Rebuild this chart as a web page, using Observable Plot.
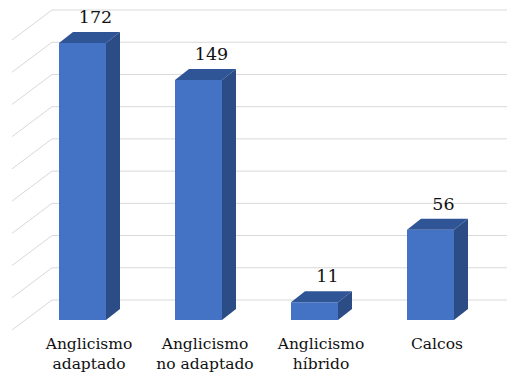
<!DOCTYPE html>
<html><head><meta charset="utf-8">
<script src="https://cdn.jsdelivr.net/npm/d3@7"></script>
<script src="https://cdn.jsdelivr.net/npm/@observablehq/plot@0.6"></script>
<style>body{margin:0;background:#fff}</style>
</head><body><div id="chart"></div>
<script>
const categories = ["Anglicismo\nadaptado", "Anglicismo\nno adaptado", "Anglicismo\nhíbrido", "Calcos"];
const values = [172, 149, 11, 56];
const gridValues = [0, 20, 40, 60, 80, 100, 120, 140, 160, 180];

const data = categories.map((c, i) => ({category: c, value: values[i]}));

const frontColor = "#4472c4", topColor = "#2f5597", sideColor = "#2b4c84";
const depthX = 14, depthY = 11;
const wallX = 52, wallDY = 20, floorDX = 40, floorDY = 30;
const serif = "'DejaVu Serif', 'Liberation Serif', 'Times New Roman', Tinos, 'Noto Serif', serif";
const bw = s => typeof s.bandwidth === "function" ? s.bandwidth() : s.bandwidth;

const gridMark = (index, scales, channels, dims) => {
  const g = d3.create("svg:g").attr("stroke", "#d9d9d9").attr("fill", "none").attr("stroke-width", 1);
  for (const v of gridValues) {
    const y = scales.y(v) - wallDY;
    g.append("path").attr("d", `M${dims.width},${y}H${wallX}l${-floorDX},${floorDY}`);
  }
  return g.node();
};

const depthMark = (index, scales) => {
  const g = d3.create("svg:g");
  const w = bw(scales.x);
  for (const d of data) {
    const x0 = scales.x(d.category), x1 = x0 + w;
    const yt = scales.y(d.value), yb = scales.y(0);
    g.append("path").attr("fill", topColor)
      .attr("d", `M${x0},${yt}L${x0 + depthX},${yt - depthY}H${x1 + depthX}L${x1},${yt}Z`);
    g.append("path").attr("fill", sideColor)
      .attr("d", `M${x1},${yt}L${x1 + depthX},${yt - depthY}V${yb - depthY}L${x1},${yb}Z`);
  }
  return g.node();
};

const chart = Plot.plot({
  width: 507,
  height: 373,
  marginLeft: 24,
  marginRight: 18,
  marginTop: 30,
  marginBottom: 53,
  style: {background: "#fff", color: "#222"},
  x: {domain: categories, paddingInner: 0.595, paddingOuter: 0.3, axis: null},
  y: {domain: [0, 180], axis: null},
  marks: [
    gridMark,
    Plot.barY(data, {x: "category", y: "value", fill: frontColor}),
    depthMark,
    Plot.text(data, {x: "category", y: "value", text: d => String(d.value), dx: 12.5, dy: -20.5,
      lineAnchor: "bottom", fontSize: 17.5, fontFamily: serif, fill: "#111"}),
    Plot.text(data, {x: "category", frameAnchor: "bottom", text: "category", dx: 6, dy: 14,
      lineAnchor: "top", fontSize: 15.5, lineHeight: 1.29, fontFamily: serif, fill: "#111"})
  ]
});
document.getElementById("chart").append(chart);
</script>
</body></html>
